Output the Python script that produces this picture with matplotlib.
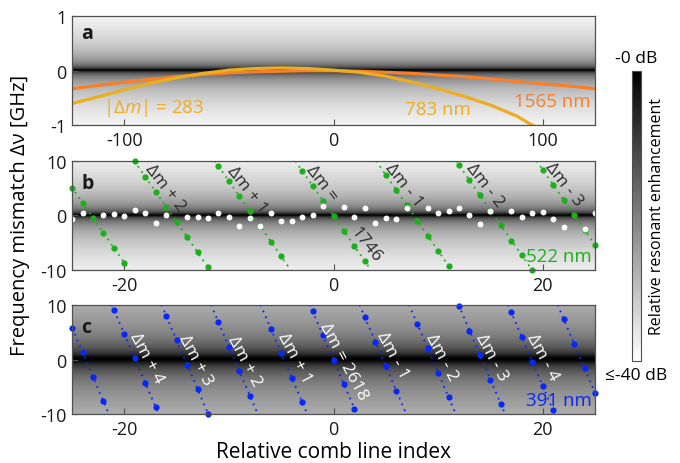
import matplotlib
matplotlib.use("Agg")
import matplotlib.pyplot as plt
import matplotlib.colors as colors
import matplotlib.cm as cm
import numpy as np

plt.rcParams['font.family'] = ['Open Sans', 'DejaVu Sans']
plt.rcParams['axes.unicode_minus'] = False
plt.rcParams['mathtext.fontset'] = 'custom'
plt.rcParams['mathtext.it'] = 'Open Sans:italic'
plt.rcParams['mathtext.rm'] = 'Open Sans'

#
# data
#
# panel a: curves, relative comb line index vs mismatch [GHz]
a_x = [-125, -112.5, -100, -87.5, -75, -62.5, -50, -37.5, -25, -12.5, 0,
       12.5, 25, 37.5, 50, 62.5, 75, 87.5, 100, 112.5, 125]
a_1565 = [-0.33, -0.27, -0.21, -0.16, -0.11, -0.07, -0.04, -0.02, -0.01, 0.0, 0.0,
          -0.01, -0.03, -0.05, -0.08, -0.11, -0.15, -0.20, -0.24, -0.28, -0.33]
a_783_x = [-125, -112.5, -100, -87.5, -75, -62.5, -50, -37.5, -25, -12.5, 0,
           12.5, 25, 37.5, 50, 62.5, 75, 87.5, 95, 100]
a_783 = [-0.60, -0.48, -0.35, -0.23, -0.13, -0.05, 0.01, 0.04, 0.05, 0.04, 0.01,
         -0.03, -0.10, -0.21, -0.33, -0.47, -0.63, -0.83, -1.0, -1.08]

# panel b: measured (white) points
b_white_x = [-25, -24, -22, -21, -20, -19, -18, -17, -16, -14, -13, -12, -11, -10,
             -9, -8, -7, -6, -5, -4, -3, -2, -1, 1, 2, 3, 4, 5, 6, 7, 9, 10, 11,
             12, 13, 14, 15, 17, 18, 19, 20, 21, 22, 24, 25]
b_white_y = [-0.6, 0.4, 0.1, 0.3, -0.1, 1.0, 0.4, -1.4, 0.1, -0.2, -0.3, -0.5, 0.4, -0.3,
             -2.0, -0.4, -2.0, 0.4, -1.0, -1.0, -0.2, 0.0, 1.8, 1.6, -0.2, 1.3, -1.4, -0.5,
             -0.7, 1.4, 1.3, 0.4, 0.9, 1.3, 0.1, -1.5, 0.9, 0.9, -0.2, 0.4, 0.7, -0.7,
             -2.1, -2.4, 0.4]

# panel b: 522 nm lines (first index, values)
b_green = [
    (-25, [5.1, 2.3, -0.4, -3.2, -5.9, -8.7]),
    (-19, [9.9, 7.1, 4.3, 1.5, -1.2, -4.0, -6.7, -9.5]),
    (-11, [9.0, 6.3, 3.5, 0.8, -2.0, -4.8, -7.5]),
    (-3, [8.2, 5.4, 2.7, -0.1, -2.9, -5.6, -8.4]),
    (5, [7.5, 4.6, 1.9, -1.0, -3.7, -6.5, -9.2]),
    (12, [9.2, 6.5, 3.7, 0.9, -1.8, -4.6, -7.3, -10.0]),
    (20, [8.4, 5.6, 2.9, 0.1, -2.6, -5.4]),
]
b_labels = [("Δm + 2", -16.1, 5.2), ("Δm + 1", -8.3, 4.8), ("Δm =", -1.15, 6.1),
            ("1746", 3.1, -5.3), ("Δm - 1", 6.7, 5.6), ("Δm - 2", 14.5, 5.6),
            ("Δm - 3", 22.0, 5.8)]

# panel c: 391 nm lines
c_blue = [
    (-25, [5.8, 1.3, -3.2, -7.6]),
    (-21, [9.1, 4.6, 0.2, -4.3, -8.7]),
    (-16, [8.0, 3.5, -1.0, -5.4, -9.9]),
    (-11, [6.8, 2.3, -2.1, -6.6]),
    (-6, [5.6, 1.2, -3.3, -7.8]),
    (-2, [8.8, 4.4, -0.1, -4.5, -9.0]),
    (3, [7.7, 3.2, -1.2, -5.7]),
    (8, [6.5, 2.1, -2.4, -6.9]),
    (12, [9.8, 5.3, 0.9, -3.7, -8.1]),
    (17, [8.6, 4.1, -0.4, -4.9, -9.3]),
    (22, [7.4, 2.9, -1.6, -6.1]),
]
c_labels = [("Δm + 4", -17.9, 0.3), ("Δm + 3", -13.2, 0.1), ("Δm + 2", -8.5, -0.2),
            ("Δm + 1", -3.7, 0.3), ("Δm = 2618", 1.0, -0.2), ("Δm - 1", 5.6, 0.9),
            ("Δm - 2", 10.3, 0.5), ("Δm - 3", 15.1, 0.6), ("Δm - 4", 20.0, 0.6)]

# resonance half widths [GHz] for the shaded background
gamma_a = 0.0125
gamma_b = 0.14
gamma_c = 0.45

orange = '#F7802A'
gold = '#EBAE22'
green = '#1DAF1D'
blue = '#0A28F5'
spine_col = '#505050'

cmap = plt.get_cmap('gray_r', 64)
norm = colors.Normalize(vmin=-40, vmax=0)


def background(ax, xlim, ylim, gamma):
    y = np.linspace(ylim[0], ylim[1], 400)
    db = -10 * np.log10(1 + (y / gamma) ** 2)
    db = np.clip(db, -40, 0)
    img = np.repeat(db[:, None], 2, axis=1)
    ax.imshow(img, extent=[xlim[0], xlim[1], ylim[0], ylim[1]], origin='lower',
              aspect='auto', cmap=cmap, norm=norm, interpolation='bilinear', zorder=0)


def style(ax, xticks, yticks, xlim, ylim):
    ax.set_xlim(*xlim)
    ax.set_ylim(*ylim)
    ax.set_xticks(xticks)
    ax.set_yticks(yticks)
    ax.tick_params(direction='in', length=4, width=0.8, color=spine_col,
                   labelsize=13, labelcolor='#1a1a1a', pad=4)
    for s in ax.spines.values():
        s.set_color(spine_col)
        s.set_linewidth(0.9)
        s.set_zorder(5)


def fold_lines(ax, lines_, col, ylim):
    for start, vals in lines_:
        xs = np.arange(start, start + len(vals))
        k, b0 = np.polyfit(xs, vals, 1)
        xe = np.array([(ylim[1] - b0) / k, (ylim[0] - b0) / k])
        ax.plot(xe, k * xe + b0, color=col, linestyle=(0, (1, 2.5)), linewidth=1.3, zorder=2)
        ax.plot(xs, vals, 'o', color=col, markersize=4.5, markeredgewidth=0, zorder=3,
                clip_on=False)


fig = plt.figure(figsize=(6.8, 4.64), dpi=100)
L, W = 0.106, 0.769
ax_a = fig.add_axes([L, 0.728, W, 0.235])
ax_b = fig.add_axes([L, 0.416, W, 0.235])
ax_c = fig.add_axes([L, 0.105, W, 0.236])
cax = fig.add_axes([0.930, 0.2205, 0.012, 0.625])

# panel a
background(ax_a, (-125, 125), (-1, 1), gamma_a)
ax_a.plot(a_x, a_1565, color=orange, linewidth=2.3, zorder=2)
ax_a.plot(a_783_x, a_783, color=gold, linewidth=2.3, zorder=2)
style(ax_a, [-100, 0, 100], [-1, 0, 1], (-125, 125), (-1, 1))
ax_a.text(0.018, 0.85, 'a', transform=ax_a.transAxes, fontsize=14, fontweight='bold',
          va='center', color='#1a1a1a')
ax_a.text(-110, -0.67, r'|Δ$m$| = 283', color=gold, fontsize=13.5, va='center')
ax_a.text(34, -0.71, '783 nm', color=gold, fontsize=13.5, va='center')
ax_a.text(123, -0.56, '1565 nm', color=orange, fontsize=13.5, va='center', ha='right')

# panel b
background(ax_b, (-25, 25), (-10, 10), gamma_b)
fold_lines(ax_b, b_green, green, (-10, 10))
ax_b.plot(b_white_x, b_white_y, 'o', color='white', markersize=4.2, markeredgewidth=0,
          zorder=4)
style(ax_b, [-20, 0, 20], [-10, 0, 10], (-25, 25), (-10, 10))
ax_b.text(0.018, 0.8, 'b', transform=ax_b.transAxes, fontsize=14, fontweight='bold',
          va='center', color='#1a1a1a')
for txt, x, y in b_labels:
    ax_b.text(x, y, txt, rotation=-52, rotation_mode='anchor', ha='center', va='center',
              fontsize=12.5, color='#2a2a2a', zorder=4)
ax_b.text(24.7, -7.4, '522 nm', color=green, fontsize=13.5, ha='right', va='center', zorder=4)

# panel c
background(ax_c, (-25, 25), (-10, 10), gamma_c)
fold_lines(ax_c, c_blue, blue, (-10, 10))
style(ax_c, [-20, 0, 20], [-10, 0, 10], (-25, 25), (-10, 10))
ax_c.text(0.018, 0.8, 'c', transform=ax_c.transAxes, fontsize=14, fontweight='bold',
          va='center', color='#1a1a1a')
for txt, x, y in c_labels:
    ax_c.text(x, y, txt, rotation=-62, rotation_mode='anchor', ha='center', va='center',
              fontsize=12.5, color='white', zorder=4)
ax_c.text(24.7, -7.4, '391 nm', color=blue, fontsize=13.5, ha='right', va='center', zorder=4)
ax_c.set_xlabel('Relative comb line index', fontsize=15, labelpad=2)

fig.text(0.03, 0.535, 'Frequency mismatch Δν [GHz]', rotation=90, fontsize=14.5,
         ha='center', va='center')

# colorbar
sm = cm.ScalarMappable(norm=norm, cmap=plt.get_cmap('gray_r'))
cb = fig.colorbar(sm, cax=cax)
cb.set_ticks([])
cb.outline.set_linewidth(0.8)
cb.outline.set_edgecolor(spine_col)
cax.text(0.5, 1.015, '-0 dB', transform=cax.transAxes, ha='center', va='bottom', fontsize=12.5)
cax.text(0.5, -0.02, '≤-40 dB', transform=cax.transAxes, ha='center', va='top', fontsize=12.5)
cax.text(2.0, 0.5, 'Relative resonant enhancement', transform=cax.transAxes, rotation=90,
         ha='left', va='center', fontsize=11.5)

fig.savefig('out.png', dpi=100)
